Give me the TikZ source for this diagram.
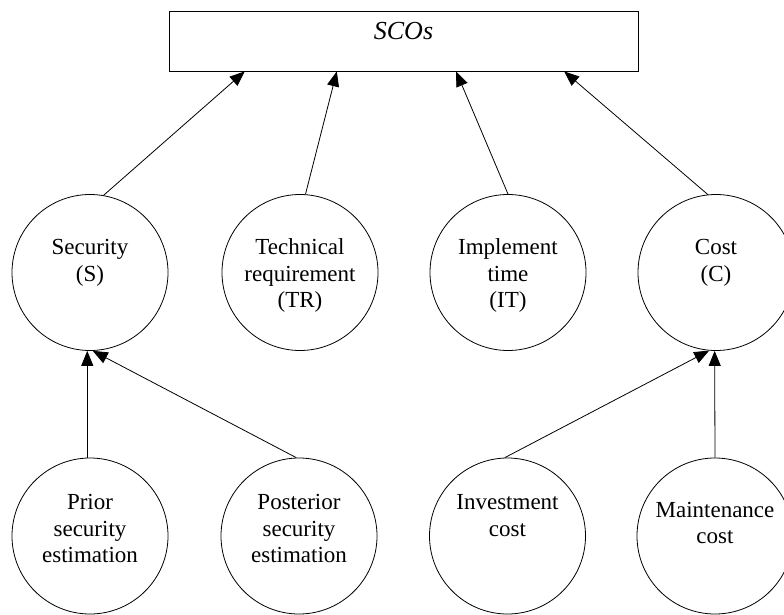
\documentclass[tikz,border=0pt]{standalone}
\usepackage{fontspec}
\setmainfont{Liberation Serif}
\usetikzlibrary{arrows.meta,calc}
\tikzset{
  circ/.style={draw, circle, minimum size=156pt, inner sep=0pt, line width=0.8pt},
  lbl/.style={anchor=base, inner sep=0pt, font=\fontsize{23}{26.5}\selectfont},
  conn/.style={line width=0.8pt, -{Triangle[length=15pt,width=12pt]}},
  topbox/.style={draw, rectangle, minimum width=469pt, minimum height=60pt, inner sep=0pt, line width=0.8pt}
}
\newcommand{\ctext}[1]{\begin{tabular}[t]{@{}c@{}}#1\end{tabular}}
\begin{document}
\begin{tikzpicture}[x=1pt,y=-1pt]
\useasboundingbox (0,0) rectangle (784,615);
% top box
\node[topbox] (top) at (403.5,41) {};
\node[anchor=base, inner sep=0pt, font=\fontsize{26}{30}\selectfont\itshape] (scos) at (403.5,40) {SCOs};
% middle row
\node[circ] (s) at (90,272.5) {};
\node[circ] (tr) at (300,272.5) {};
\node[circ] (it) at (508,272.5) {};
\node[circ] (c) at (716,272.5) {};
\node[lbl] (sT) at (90,254.5) {\ctext{Security\\(S)}};
\node[lbl] (trT) at (300,254.5) {\ctext{Technical\\requirement\\(TR)}};
\node[lbl] (itT) at (508,254.5) {\ctext{Implement\\time\\(IT)}};
\node[lbl] (cT) at (716,254.5) {\ctext{Cost\\(C)}};
% bottom row
\node[circ] (p) at (90,536) {};
\node[circ] (ps) at (299,536) {};
\node[circ] (inv) at (507.5,536) {};
\node[circ] (m) at (715,536) {};
\node[lbl] (pT) at (90,509.5) {\ctext{Prior\\security\\estimation}};
\node[lbl] (psT) at (299,509.5) {\ctext{Posterior\\security\\estimation}};
\node[lbl] (invT) at (507.5,509.5) {\ctext{Investment\\cost}};
\node[lbl] (mT) at (715,517) {\ctext{Maintenance\\cost}};
% connectors to top box
\draw[conn] (s.80) -- ($(top.south west)!0.162!(top.south east)$);
\draw[conn] (tr.86) -- ($(top.south west)!0.358!(top.south east)$);
\draw[conn] (it.90) -- ($(top.south west)!0.612!(top.south east)$);
\draw[conn] (c.96) -- ($(top.south west)!0.842!(top.south east)$);
% connectors from bottom row
\draw[conn] (p.92) -- (s.268);
\draw[conn] (ps.92) -- (s.272);
\draw[conn] (inv.92) -- (c.265);
\draw[conn] (m.90) -- (c.269);
\end{tikzpicture}
\end{document}
